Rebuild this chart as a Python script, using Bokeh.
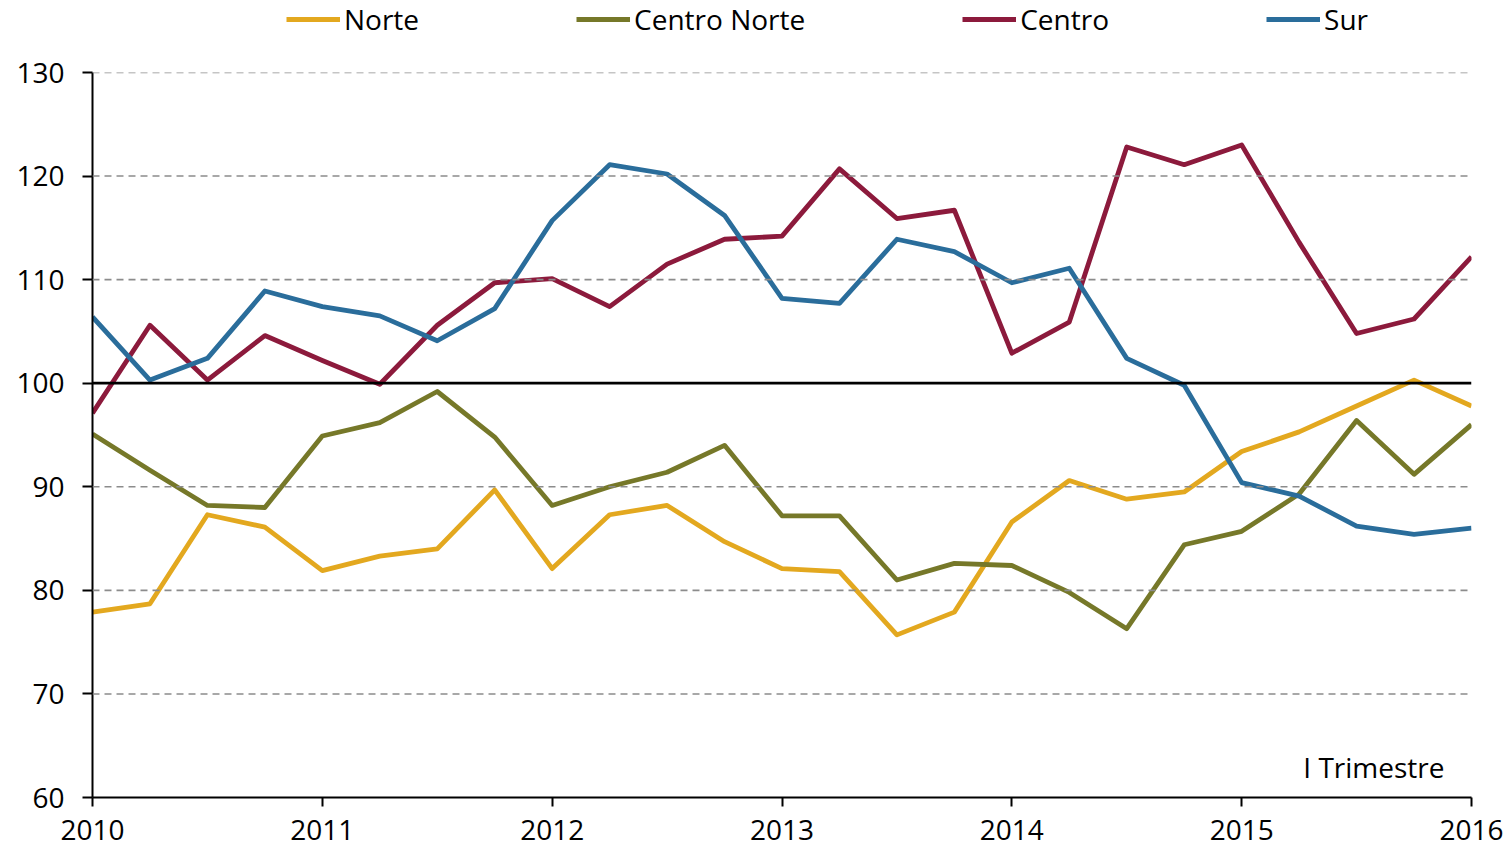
from bokeh.plotting import figure
from bokeh.layouts import column
from bokeh.models import Legend, LegendItem, Label, Span, FixedTicker, ColumnDataSource
from bokeh.embed import file_html
from bokeh.resources import INLINE

# quarterly periods 2010 Q1 .. 2016 Q1
periods = [2010 + i * 0.25 for i in range(25)]
norte = [77.9, 78.7, 87.3, 86.1, 81.9, 83.3, 84.0, 89.7, 82.1, 87.3, 88.2, 84.7, 82.1,
         81.8, 75.7, 77.9, 86.6, 90.6, 88.8, 89.5, 93.4, 95.3, 97.8, 100.3, 97.8]
centro_norte = [95.1, 91.6, 88.2, 88.0, 94.9, 96.2, 99.2, 94.8, 88.2, 90.0, 91.4, 94.0, 87.2,
                87.2, 81.0, 82.6, 82.4, 79.8, 76.3, 84.4, 85.7, 89.3, 96.4, 91.2, 96.0]
centro = [97.1, 105.6, 100.3, 104.6, 102.2, 99.9, 105.6, 109.7, 110.1, 107.4, 111.5, 113.9, 114.2,
          120.7, 115.9, 116.7, 102.9, 105.9, 122.8, 121.1, 123.0, 113.6, 104.8, 106.2, 112.2]
sur = [106.4, 100.3, 102.4, 108.9, 107.4, 106.5, 104.1, 107.2, 115.7, 121.1, 120.2, 116.2, 108.2,
       107.7, 113.9, 112.7, 109.7, 111.1, 102.4, 99.8, 90.4, 89.1, 86.2, 85.4, 86.0]

series_names = ["Norte", "Centro Norte", "Centro", "Sur"]
series_values = [norte, centro_norte, centro, sur]
colors = ["#E3A81F", "#767829", "#8C1A3C", "#2A6D9B"]
year_ticks = [2010, 2011, 2012, 2013, 2014, 2015, 2016]
y_ticks = [60, 70, 80, 90, 100, 110, 120, 130]
grid_lines = [70, 80, 90, 110, 120, 130]
FONT = "Open Sans"
FS = "28px"
W = 1505
TOP_H = 44
TOTAL_H = 852

# ---- legend strip (its proxy lines lie outside the visible range) ----
lg = figure(width=W, height=TOP_H, output_backend="svg", toolbar_location=None,
            x_axis_type=None, y_axis_type=None, x_range=(0, 1), y_range=(0, 1),
            min_border=0)
lg.outline_line_color = None
lg.xgrid.grid_line_color = None
lg.ygrid.grid_line_color = None
items = []
for name, col in zip(series_names, colors):
    r = lg.line(x=[-5, -4], y=[-5, -4], line_color=col, line_width=4.8)
    items.append(LegendItem(label=name, renderers=[r]))
legend = Legend(items=items, orientation="horizontal", location=(194, 6),
                spacing=157, glyph_width=54, glyph_height=20, label_standoff=4,
                padding=0, margin=0, border_line_color=None, background_fill_alpha=0,
                label_text_font=FONT, label_text_font_size=FS, label_text_color="black")
lg.add_layout(legend, "center")

# ---- main chart ----
p = figure(width=W, height=TOTAL_H - TOP_H, output_backend="svg", toolbar_location=None,
           x_range=(2010, 2016), y_range=(60, 130),
           min_border_left=92, min_border_right=34, min_border_top=72 - TOP_H,
           min_border_bottom=TOTAL_H - 797)
p.outline_line_color = None
p.xgrid.grid_line_color = None
p.ygrid.grid_line_color = None

for g in grid_lines:
    p.add_layout(Span(location=g, dimension="width", line_color="#8c8c8c",
                      line_width=1.6, line_dash="7 5"))
p.add_layout(Span(location=100, dimension="width", line_color="black", line_width=2.8))

for name, vals, col in zip(series_names, series_values, colors):
    src = ColumnDataSource(dict(x=periods, y=vals))
    p.line("x", "y", source=src, line_color=col, line_width=4.8, line_join="round")

for ax in (p.xaxis, p.yaxis):
    ax.axis_line_color = "black"
    ax.axis_line_width = 2
    ax.major_tick_line_color = "black"
    ax.major_tick_line_width = 2
    ax.major_tick_in = 0
    ax.minor_tick_line_color = None
    ax.major_label_text_font = FONT
    ax.major_label_text_font_size = FS
    ax.major_label_text_color = "black"

p.xaxis.ticker = FixedTicker(ticks=year_ticks)
p.xaxis.major_tick_out = 9
p.xaxis.major_label_standoff = 13
p.yaxis.ticker = FixedTicker(ticks=y_ticks)
p.yaxis.major_tick_out = 10
p.yaxis.major_label_standoff = 18

p.add_layout(Label(x=1352, y=31, x_units="screen", y_units="screen", text="I Trimestre",
                   text_align="right", text_baseline="middle", text_font=FONT,
                   text_font_size=FS, text_color="black"))

layout = column(lg, p, spacing=0)
open("out.html", "w").write(file_html(layout, INLINE))
